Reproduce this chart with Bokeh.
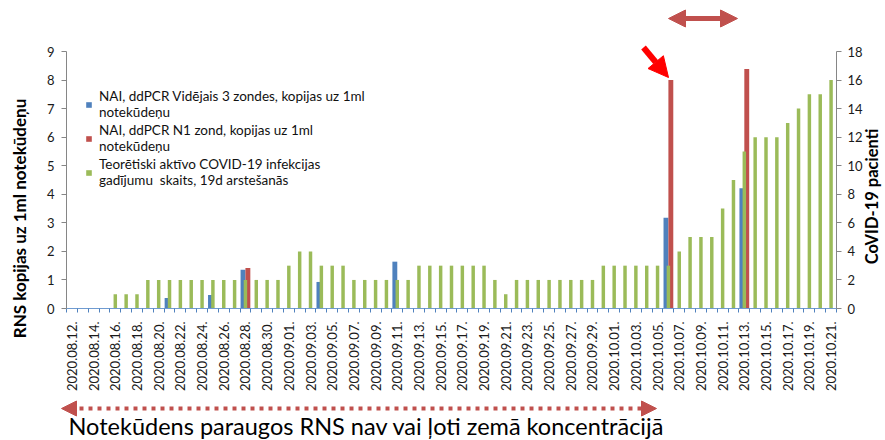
import math
import pandas as pd
from bokeh.plotting import figure
from bokeh.models import (Range1d, LinearAxis, FixedTicker, Arrow, NormalHead,
                          Label, Legend, LegendItem)
from bokeh.embed import file_html
from bokeh.resources import INLINE

# ---------------- data ----------------
dates = [d.strftime("%Y.%m.%d.") for d in pd.date_range("2020-08-12", "2020-10-21")]

blue_rna = [0, 0, 0, 0, 0, 0, 0, 0, 0, 0.37, 0, 0, 0, 0.47, 0, 0, 1.36, 0, 0, 0,
            0, 0, 0, 0.93, 0, 0, 0, 0, 0, 0, 1.64, 0, 0, 0, 0, 0, 0, 0, 0, 0,
            0, 0, 0, 0, 0, 0, 0, 0, 0, 0, 0, 0, 0, 0, 0, 3.18, 0, 0, 0, 0,
            0, 0, 4.21, 0, 0, 0, 0, 0, 0, 0, 0]
red_rna = [0, 0, 0, 0, 0, 0, 0, 0, 0, 0, 0, 0, 0, 0, 0, 0, 1.42, 0, 0, 0,
           0, 0, 0, 0, 0, 0, 0, 0, 0, 0, 0, 0, 0, 0, 0, 0, 0, 0, 0, 0,
           0, 0, 0, 0, 0, 0, 0, 0, 0, 0, 0, 0, 0, 0, 0, 8.0, 0, 0, 0, 0,
           0, 0, 8.39, 0, 0, 0, 0, 0, 0, 0, 0]
green_patients = [0, 0, 0, 0, 1, 1, 1, 2, 2, 2, 2, 2, 2, 2, 2, 2, 2, 2, 2, 2,
                  3, 4, 4, 3, 3, 3, 2, 2, 2, 2, 2, 2, 3, 3, 3, 3, 3, 3, 3, 2,
                  1, 2, 2, 2, 2, 2, 2, 2, 2, 3, 3, 3, 3, 3, 3, 3, 4, 5, 5, 5,
                  7, 9, 11, 12, 12, 12, 13, 14, 15, 15, 16]

left_ticks = list(range(0, 10))
right_ticks = list(range(0, 19, 2))

legend_labels = ["NAI, ddPCR Vidējais 3 zondes, kopijas uz 1ml\nnotekūdeņu",
                 "NAI, ddPCR N1 zond, kopijas uz 1ml\nnotekūdeņu",
                 "Teorētiski aktīvo COVID-19 infekcijas\ngadījumu  skaits, 19d arstešanās"]
left_title = "RNS kopijas uz 1ml notekūdeņu"
right_title = "CoVID-19 pacienti"
bottom_note = "Notekūdens paraugos RNS nav vai ļoti zemā koncentrācijā"

# ---------------- layout ----------------
W, H = 885, 440
PL, PR, PT, PB = 66, 836, 51, 308   # plot-area edges in pixels
n = len(dates)
x_idx = list(range(n))
YMAX = 9.0

def px2x(px):
    return -0.5 + (px - PL) * n / (PR - PL)

def px2y(py):
    return (PB - py) * YMAX / (PB - PT)

FONT = "Lato"
BLUE, RED, GREEN = "#4F81BD", "#C0504D", "#9BBB59"

p = figure(width=W, height=H, output_backend="svg", toolbar_location=None,
           x_range=Range1d(px2x(0), px2x(W)), y_range=Range1d(px2y(H), px2y(0)),
           min_border=0, x_axis_type=None, y_axis_type=None)
p.extra_y_ranges = {"pac": Range1d(2 * px2y(H), 2 * px2y(0))}
p.xgrid.visible = False
p.ygrid.visible = False
p.outline_line_color = None
p.background_fill_color = "white"
p.border_fill_color = "white"

# bars
rb = p.vbar(x=[i - 0.225 for i in x_idx], top=blue_rna, width=0.45,
            fill_color=BLUE, line_color=None)
rr = p.vbar(x=[i + 0.225 for i in x_idx], top=red_rna, width=0.45,
            fill_color=RED, line_color=None)
rg = p.vbar(x=x_idx, top=green_patients, width=0.32, y_range_name="pac",
            fill_color=GREEN, line_color=None)

# axes (placed at fixed data locations)
xaxis = LinearAxis(ticker=FixedTicker(ticks=list(range(0, n, 2)),
                                      minor_ticks=[i - 0.5 for i in range(n + 1)]),
                   fixed_location=0, bounds=(-0.5, n - 0.5))
xaxis.major_label_overrides = {i: dates[i] for i in range(0, n, 2)}
xaxis.major_label_orientation = math.pi / 2
xaxis.major_tick_line_color = None
xaxis.minor_tick_line_color = "#4F81BD"
xaxis.minor_tick_in = 0
xaxis.minor_tick_out = 4
xaxis.axis_line_color = "#6F9BD1"
xaxis.major_label_text_font = FONT
xaxis.major_label_text_font_size = "13px"
xaxis.major_label_text_color = "#1a1a1a"
xaxis.major_label_standoff = 7
p.add_layout(xaxis, "below")

yaxis = LinearAxis(ticker=FixedTicker(ticks=left_ticks), fixed_location=-0.5,
                   bounds=(0, YMAX))
yaxis.axis_line_color = "#868686"
yaxis.major_tick_line_color = "#868686"
yaxis.major_tick_in = 0
yaxis.major_tick_out = 5
yaxis.minor_tick_line_color = None
yaxis.major_label_text_font = FONT
yaxis.major_label_text_font_size = "13px"
yaxis.major_label_text_color = "#1a1a1a"
yaxis.major_label_standoff = 7
p.add_layout(yaxis, "left")

raxis = LinearAxis(y_range_name="pac", ticker=FixedTicker(ticks=right_ticks),
                   fixed_location=n - 0.5, bounds=(0, 2 * YMAX))
raxis.axis_line_color = "#868686"
raxis.major_tick_line_color = "#868686"
raxis.major_tick_in = 0
raxis.major_tick_out = 5
raxis.minor_tick_line_color = None
raxis.major_label_text_font = FONT
raxis.major_label_text_font_size = "13px"
raxis.major_label_text_color = "#1a1a1a"
raxis.major_label_standoff = 6
p.add_layout(raxis, "right")

# axis titles
p.add_layout(Label(x=px2x(19), y=px2y(218), text=left_title, angle=math.pi / 2,
                   text_align="center", text_baseline="middle",
                   text_font=FONT, text_font_style="bold", text_font_size="17px",
                   text_color="black"))
p.add_layout(Label(x=px2x(871), y=px2y(196), text=right_title, angle=math.pi / 2,
                   text_align="center", text_baseline="middle",
                   text_font=FONT, text_font_style="bold", text_font_size="16.5px",
                   text_color="black"))

# legend
legend = Legend(items=[LegendItem(label=legend_labels[0], renderers=[rb]),
                       LegendItem(label=legend_labels[1], renderers=[rr]),
                       LegendItem(label=legend_labels[2], renderers=[rg])],
                location=(85, 252), orientation="vertical",
                background_fill_alpha=0, border_line_color=None,
                label_text_font=FONT, label_text_font_size="13.5px",
                label_text_line_height=1.28,
                label_text_color="#111111", glyph_width=7, glyph_height=7,
                label_standoff=7, spacing=2, padding=0, margin=0)
p.add_layout(legend)

# annotations
p.add_layout(Arrow(x_start=px2x(643), y_start=px2y(47), x_end=px2x(668), y_end=px2y(77),
                   line_color="red", line_width=6,
                   end=NormalHead(size=20, fill_color="red", line_color="red")))
p.add_layout(Arrow(x_start=px2x(668), y_start=px2y(18), x_end=px2x(737), y_end=px2y(18),
                   line_color=RED, line_width=5,
                   start=NormalHead(size=17, fill_color=RED, line_color=RED),
                   end=NormalHead(size=17, fill_color=RED, line_color=RED)))
p.add_layout(Arrow(x_start=px2x(61), y_start=px2y(408), x_end=px2x(656), y_end=px2y(408),
                   line_color=RED, line_width=4, line_dash="4 5",
                   start=NormalHead(size=15, fill_color=RED, line_color=RED),
                   end=NormalHead(size=15, fill_color=RED, line_color=RED)))
p.add_layout(Label(x=px2x(68), y=px2y(425), text=bottom_note,
                   text_align="left", text_baseline="middle",
                   text_font=FONT, text_font_size="23.5px", text_color="black"))

open("out.html", "w").write(file_html(p, INLINE))
